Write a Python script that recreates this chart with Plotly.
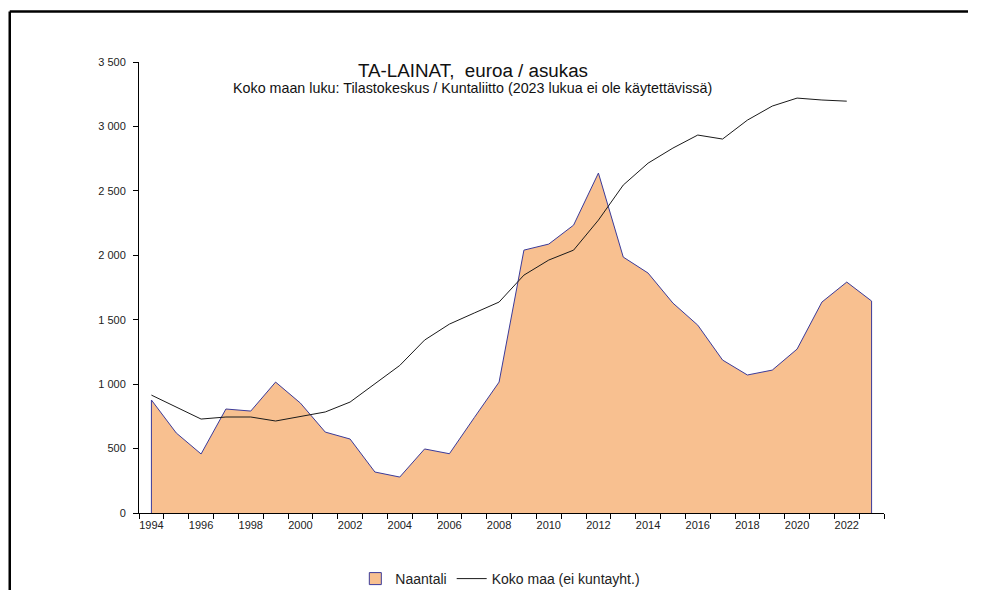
import plotly.graph_objects as go

years = list(range(1994, 2024))
naantali = [877, 621, 458, 807, 791, 1016, 853, 628, 574, 318, 279, 497, 460, 740, 1016,
            2040, 2087, 2234, 2638, 1986, 1862, 1629, 1458, 1187, 1071, 1109, 1272, 1637, 1792, 1645]
koko_years = list(range(1994, 2023))
koko_maa = [915, 822, 729, 745, 745, 714, 750, 784, 861, 1001, 1145, 1342, 1466, 1552, 1637,
            1846, 1963, 2040, 2273, 2545, 2715, 2832, 2933, 2902, 3049, 3158, 3220, 3205, 3196]

y_ticks = [0, 500, 1000, 1500, 2000, 2500, 3000, 3500]
y_labels = ["0", "500", "1 000", "1 500", "2 000", "2 500", "3 000", "3 500"]
x_label_years = [y for y in years if y % 2 == 0]

title = "TA-LAINAT,  euroa / asukas"
subtitle = "Koko maan luku: Tilastokeskus / Kuntaliitto (2023 lukua ei ole käytettävissä)"

font = "Liberation Sans, Arial, sans-serif"
fill_col = "#F8C090"
edge_col = "#3B3B9A"

fig = go.Figure()
fig.add_trace(go.Scatter(
    x=[years[0]] + years + [years[-1]],
    y=[0] + naantali + [0],
    mode="lines", fill="toself", fillcolor=fill_col,
    line=dict(color=edge_col, width=1),
    name="Naantali", showlegend=False, legendgroup="n", hoverinfo="skip"))
# legend-only entry so the key shows a bordered box like the original
fig.add_trace(go.Bar(
    x=[None], y=[None], name="Naantali", legendgroup="n",
    marker=dict(color=fill_col, line=dict(color=edge_col, width=1))))
fig.add_trace(go.Scatter(
    x=koko_years, y=koko_maa, mode="lines",
    line=dict(color="#1a1a1a", width=1),
    name="Koko maa (ei kuntayht.)"))

W, H = 960, 582
fig.update_layout(
    width=W, height=H,
    margin=dict(l=131, r=W - 876, t=54, b=H - 505, autoexpand=False),
    paper_bgcolor="white", plot_bgcolor="white",
    font=dict(family=font, size=11, color="#222"),
    showlegend=True,
    legend=dict(orientation="h", x=0.485, xanchor="center", yref="container",
                y=1 - 571 / H, yanchor="middle",
                font=dict(size=14, color="#222"), itemwidth=30, tracegroupgap=0),
    annotations=[
        dict(text=title, x=0.448, y=0.982, xref="paper", yref="paper", showarrow=False,
             font=dict(size=18.8, color="#111"), xanchor="center", yanchor="middle"),
        dict(text=subtitle, x=0.4483, y=0.942, xref="paper", yref="paper", showarrow=False,
             font=dict(size=14.3, color="#111"), xanchor="center", yanchor="middle"),
    ],
    shapes=[
        dict(type="line", xref="paper", yref="paper",
             x0=-0.1735, x1=1.3, y0=1.112, y1=1.112,
             line=dict(color="black", width=2.5)),
        dict(type="line", xref="paper", yref="paper",
             x0=-0.1735, x1=-0.1735, y0=-0.3, y1=1.112,
             line=dict(color="black", width=2.5)),
    ],
)

fig.update_xaxes(
    range=[1993.5, 2023.5], showgrid=False, zeroline=False,
    showline=True, linecolor="black", linewidth=1,
    tickmode="array", tickvals=x_label_years, ticktext=[str(v) for v in x_label_years],
    ticks="", ticklabelstandoff=2, tickfont=dict(size=11, color="#222"),
    minor=dict(tickmode="linear", tick0=1993.5, dtick=1, ticks="outside",
               ticklen=5, tickcolor="black", tickwidth=1, showgrid=False),
)
fig.update_yaxes(
    range=[0, 3500], showgrid=False, zeroline=False,
    showline=True, linecolor="black", linewidth=1,
    tickmode="array", tickvals=y_ticks, ticktext=y_labels,
    ticks="outside", ticklen=5, tickcolor="black", ticklabelstandoff=5,
    tickfont=dict(size=11, color="#222"),
)

fig.write_html("out.html")
